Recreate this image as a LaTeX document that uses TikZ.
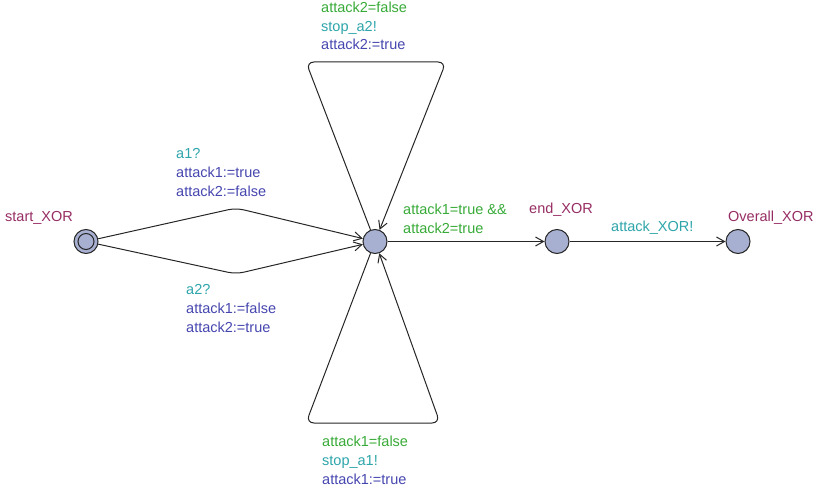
\documentclass[tikz,border=0pt]{standalone}
\usepackage{fontspec}
\setmainfont{Liberation Sans}
\usetikzlibrary{arrows.meta}
\definecolor{locname}{RGB}{150,45,100}
\definecolor{guardc}{RGB}{55,170,55}
\definecolor{syncc}{RGB}{45,165,170}
\definecolor{updc}{RGB}{70,70,175}
\definecolor{locfill}{RGB}{168,176,210}
\tikzset{
  loc/.style={circle,draw=black!85,fill=locfill,minimum size=24pt,inner sep=0pt,line width=1pt},
  edge/.style={draw=black!85,line width=1pt,-{Straight Barb[length=8pt,width=9pt]}},
  txt/.style={anchor=base west,inner sep=0pt,font=\fontsize{14.5}{18.5}\selectfont},
  lname/.style={txt,text=locname},
  guard/.style={txt,text=guardc},
  sync/.style={txt,text=syncc},
  upd/.style={txt,text=updc}
}
\begin{document}
\begin{tikzpicture}[x=1pt,y=-1pt]
\useasboundingbox (0,0) rectangle (818,489);
% locations
\node[loc] (s) at (86,241.5) {};
\node[circle,draw=black!85,line width=1pt,minimum size=16pt,inner sep=0pt] (si) at (86,241.5) {};
\node[loc] (c) at (375,241.5) {};
\node[loc] (e) at (557,241.5) {};
\node[loc] (o) at (738,241.5) {};
% location names
\node[lname] (sn) at (5,221) {start\_XOR};
\node[lname] (en) at (529,213) {end\_XOR};
\node[lname] (on) at (728,221) {Overall\_XOR};
% edges
\draw[edge,rounded corners=8pt] (s) -- (236,208) -- (c);
\draw[edge,rounded corners=8pt] (s) -- (236,274) -- (c);
\draw[edge,rounded corners=8pt] (c) -- (306,62) -- (446,62) -- (c);
\draw[edge,rounded corners=8pt] (c) -- (306,423) -- (440,423) -- (c);
\draw[edge] (c) -- (e);
\draw[edge] (e) -- (o);
% labels top loop
\node[guard] (t1) at (321,13) {attack2=false};
\node[sync] (t2) at (321,32) {stop\_a2!};
\node[upd] (t3) at (321,50) {attack2:=true};
% labels upper edge
\node[sync] (u1) at (176,158) {a1?};
\node[upd] (u2) at (176,177) {attack1:=true};
\node[upd] (u3) at (176,196) {attack2:=false};
% labels lower edge
\node[sync] (l1) at (186,294) {a2?};
\node[upd] (l2) at (186,313) {attack1:=false};
\node[upd] (l3) at (186,332) {attack2:=true};
% labels center->end
\node[guard] (g1) at (403,214) {attack1=true \&\&};
\node[guard] (g2) at (403,233) {attack2=true};
% label end->overall
\node[sync] (x1) at (611,231) {attack\_XOR!};
% labels bottom loop
\node[guard] (b1) at (322,446) {attack1=false};
\node[sync] (b2) at (322,465) {stop\_a1!};
\node[upd] (b3) at (322,484) {attack1:=true};
\end{tikzpicture}
\end{document}
